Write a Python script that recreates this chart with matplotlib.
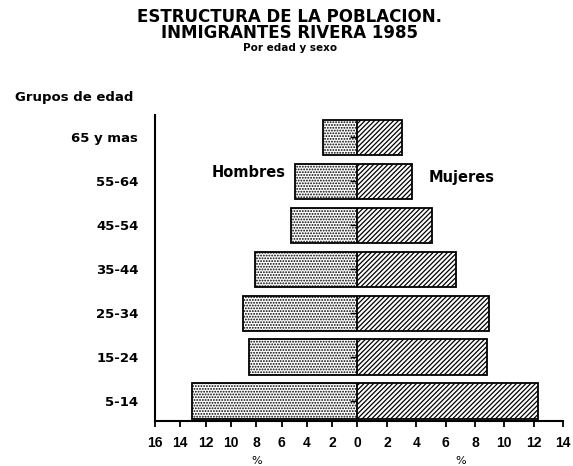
import matplotlib
matplotlib.use('Agg')
import matplotlib.pyplot as plt
import numpy as np

grupos = ['5-14', '15-24', '25-34', '35-44', '45-54', '55-64', '65 y mas']
hombres = [13.07, 8.57, 9.04, 8.1, 5.25, 4.94, 2.75]
mujeres = [12.3, 8.82, 8.96, 6.71, 5.07, 3.71, 3.03]
ticks_h = [16, 14, 12, 10, 8, 6, 4, 2]
ticks_m = [0, 2, 4, 6, 8, 10, 12, 14]

plt.rcParams['font.family'] = 'DejaVu Sans'
plt.rcParams['font.weight'] = 'bold'
plt.rcParams['hatch.linewidth'] = 0.9

fig = plt.figure(figsize=(5.73, 4.66), dpi=100)
ax_h = fig.add_axes([0.2705, 0.0966, 0.3534, 0.6567])
ax_m = fig.add_axes([0.6239, 0.0966, 0.3586, 0.6567])

y = np.arange(len(grupos))

ax_h.barh(y, hombres, height=0.8, color='white', edgecolor='black',
          hatch='......', linewidth=1.3)
ax_m.barh(y, mujeres, height=0.8, color='white', edgecolor='black',
          hatch='///////', linewidth=1.3)

for ax in (ax_h, ax_m):
    ax.set_ylim(-0.455, 6.51)
    ax.spines['top'].set_visible(False)
    ax.spines['right'].set_visible(False)
    ax.spines['bottom'].set_linewidth(1.5)
    ax.spines['left'].set_linewidth(1.5)
    ax.tick_params(axis='x', direction='out', length=4, width=1.3, pad=7)
    ax.set_xlabel('%', fontsize=8, labelpad=4)

ax_h.set_xlim(16, 0)
ax_h.set_xticks(ticks_h)
ax_h.set_xticklabels([str(t) for t in ticks_h], family='Liberation Sans',
                     fontsize=10, fontweight='bold')
ax_h.set_yticks(y)
ax_h.set_yticklabels(grupos, fontsize=9.5, fontweight='bold')
ax_h.tick_params(axis='y', length=0, pad=12)

ax_m.set_xlim(0, 14)
ax_m.set_xticks(ticks_m)
ax_m.set_xticklabels([str(t) for t in ticks_m], family='Liberation Sans',
                     fontsize=10, fontweight='bold')
ax_m.spines['left'].set_visible(False)
ax_m.set_yticks(y)
ax_m.tick_params(axis='y', direction='out', length=5, width=1.0, labelleft=False)

ax_h.text(11.5, 5.19, 'Hombres', fontsize=10.5, fontweight='bold',
          ha='left', va='center')
ax_m.text(4.87, 5.08, 'Mujeres', fontsize=10.5, fontweight='bold',
          ha='left', va='center')

fig.text(0.026, 0.79, 'Grupos de edad', fontsize=9.5, fontweight='bold',
         ha='left', va='center')
fig.text(0.506, 0.946, 'ESTRUCTURA DE LA POBLACION.\nINMIGRANTES RIVERA 1985',
         fontsize=12, fontweight='bold', ha='center', va='center',
         linespacing=0.85)
fig.text(0.506, 0.898, 'Por edad y sexo', fontsize=7.5,
         fontweight='bold', ha='center', va='center')

fig.savefig('out.png', dpi=100)
